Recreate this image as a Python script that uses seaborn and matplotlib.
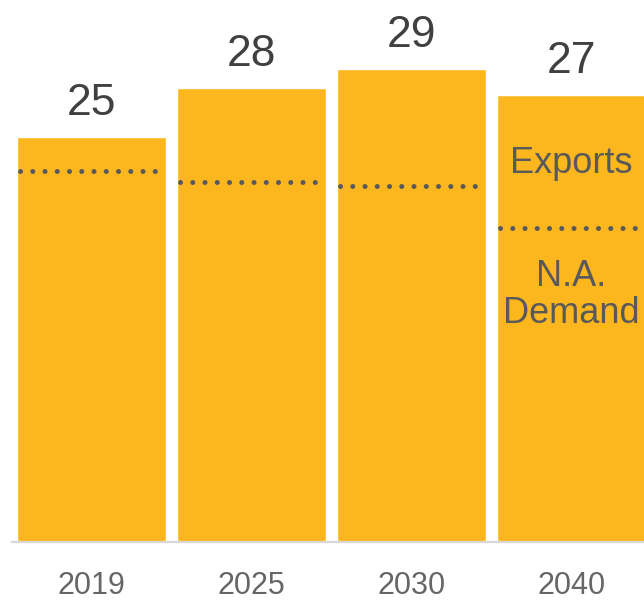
import matplotlib
matplotlib.use("Agg")
import matplotlib.pyplot as plt
import seaborn as sns
import pandas as pd

# data
years = ["2019", "2025", "2030", "2040"]
totals = [25.0, 28.0, 29.2, 27.6]          # bar heights
total_labels = ["25", "28", "29", "27"]     # printed values
na_demand = [22.9, 22.2, 22.0, 19.4]        # dotted split line (N.A. demand)

bar_color = "#FDB71E"
dark = "#404040"
mid = "#595959"

sns.set_style("white")
plt.rcParams["font.family"] = ["Liberation Sans", "DejaVu Sans"]

df = pd.DataFrame({"year": years, "total": totals})

fig = plt.figure(figsize=(6.44, 6.0), dpi=100)
ax = fig.add_axes([12 / 644, 58 / 600, 632 / 644, 542 / 600])

sns.barplot(data=df, x="year", y="total", color=bar_color, saturation=1,
            width=0.93, ax=ax)

# dotted line = top of N.A. demand
for i, v in enumerate(na_demand):
    ax.hlines(v, i - 0.447, i + 0.43, colors=mid, linewidth=3.6,
              linestyles=(0, (0.01, 2.44)), capstyle="round")

# value labels above bars
for i, (v, s) in enumerate(zip(totals, total_labels)):
    ax.annotate(s, (i, v), xytext=(0, 16), textcoords="offset points",
                ha="center", va="baseline", fontsize=32, color=dark)

# segment labels on the last bar
ax.text(3, 22.78, "Exports", ha="center", va="baseline", fontsize=26, color=mid)
ax.text(3, 17.5, "N.A.\nDemand", ha="center", va="top", fontsize=26,
        color=mid, linespacing=1.08)

ax.set_xlim(-0.497, 3.453)
ax.set_ylim(0, 542 / 16.2)
ax.set_xlabel("")
ax.set_ylabel("")
ax.set_yticks([])
ax.tick_params(axis="x", length=0, pad=21, labelsize=22, labelcolor="#666666")
for side in ["top", "right", "left"]:
    ax.spines[side].set_visible(False)
ax.spines["bottom"].set_color("#D9D9D9")
ax.spines["bottom"].set_linewidth(1.6)

fig.savefig("out.png", dpi=100)
